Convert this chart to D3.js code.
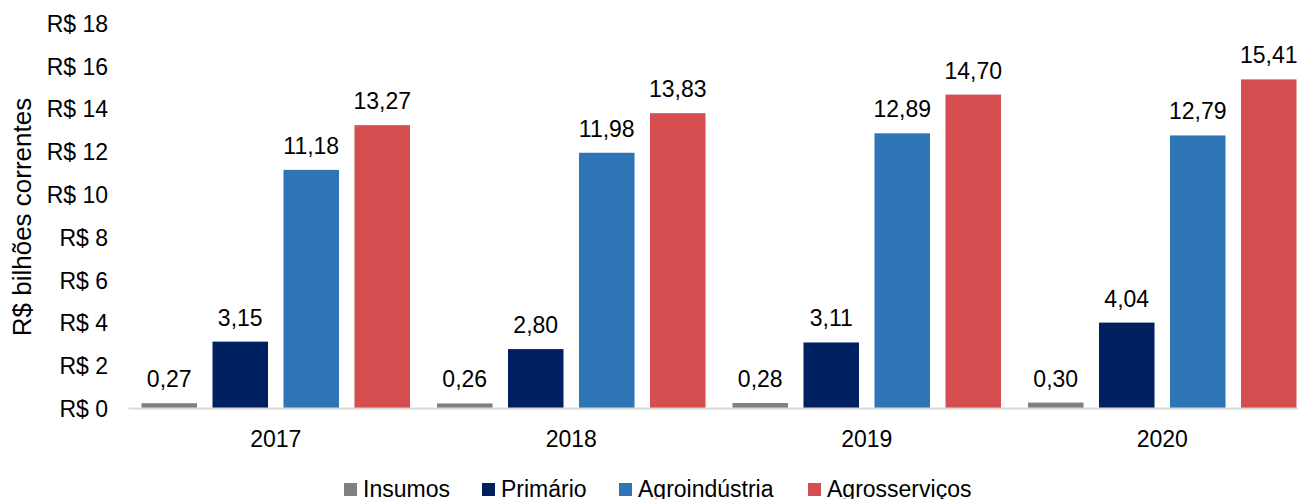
<!DOCTYPE html>
<html>
<head>
<meta charset="utf-8">
<script src="https://cdn.jsdelivr.net/npm/d3@7"></script>
<style>
  html, body { margin: 0; padding: 0; background: #fff; }
  svg { display: block; font-family: "Liberation Sans", Arial, sans-serif; }
</style>
</head>
<body>
<svg id="chart" width="1298" height="499"></svg>
<script>
// Valor por segmento do agronegócio (R$ bilhões correntes)
const years = ["2017", "2018", "2019", "2020"];
const segments = ["Insumos", "Primário", "Agroindústria", "Agrosserviços"];
const insumos = [0.27, 0.26, 0.28, 0.30];
const primario = [3.15, 2.80, 3.11, 4.04];
const agroindustria = [11.18, 11.98, 12.89, 12.79];
const agrosservicos = [13.27, 13.83, 14.70, 15.41];
const yTicks = [0, 2, 4, 6, 8, 10, 12, 14, 16, 18];
const colors = ["#808080", "#002060", "#2E75B6", "#D44D4F"];

const seriesValues = [insumos, primario, agroindustria, agrosservicos];
const rows = years.map((yr, i) => ({
  year: yr,
  values: segments.map((s, j) => ({ key: s, value: seriesValues[j][i], color: colors[j] }))
}));

const svg = d3.select("#chart");
const FS = 23;
const fmt = v => d3.format(".2f")(v).replace(".", ",");

const x0 = d3.scaleBand().domain(years).range([128, 1310]).paddingInner(0).paddingOuter(0);
const x1 = d3.scaleBand().domain(segments).range([0, x0.bandwidth()]).paddingInner(0.218).paddingOuter(0.19);
const y = d3.scaleLinear().domain([0, 18]).range([409, 24]);

// Y axis tick labels (no line)
const yAxis = d3.axisLeft(y).tickValues(yTicks).tickSize(0).tickPadding(0)
  .tickFormat(d => "R$ " + d);
const gy = svg.append("g").attr("transform", "translate(108,0)").call(yAxis);
gy.select(".domain").remove();
gy.selectAll("text").attr("font-size", FS).attr("fill", "#000")
  .attr("font-family", "Liberation Sans, Arial, sans-serif");

// Y title
svg.append("text")
  .attr("transform", "translate(31,217) rotate(-90)")
  .attr("text-anchor", "middle")
  .attr("font-size", 26)
  .attr("fill", "#000")
  .text("R$ bilhões correntes");

// Bars
const groups = svg.append("g").selectAll("g").data(rows).join("g")
  .attr("transform", d => `translate(${x0(d.year)},0)`);

groups.selectAll("rect").data(d => d.values).join("rect")
  .attr("x", d => x1(d.key))
  .attr("width", x1.bandwidth())
  .attr("y", d => y(d.value))
  .attr("height", d => y(0) - y(d.value))
  .attr("fill", d => d.color);

groups.selectAll("text.val").data(d => d.values).join("text")
  .attr("class", "val")
  .attr("x", d => x1(d.key) + x1.bandwidth() / 2)
  .attr("y", d => y(d.value) - 16)
  .attr("text-anchor", "middle")
  .attr("font-size", FS)
  .attr("fill", "#000")
  .text(d => fmt(d.value));

// X axis
const xAxis = d3.axisBottom(x0).tickSize(0).tickPadding(0);
const gx = svg.append("g").attr("transform", `translate(0,${y(0) - 1})`).call(xAxis);
gx.select(".domain").attr("stroke", "#d9d9d9").attr("stroke-width", 2);
gx.selectAll("text").attr("font-size", FS).attr("fill", "#000")
  .attr("dy", null).attr("y", 39)
  .attr("font-family", "Liberation Sans, Arial, sans-serif");

// Legend
const legendX = [344, 482, 619, 808];
const legend = svg.append("g").selectAll("g").data(segments).join("g")
  .attr("transform", (d, i) => `translate(${legendX[i]},0)`);
legend.append("rect").attr("x", 0).attr("y", 483).attr("width", 13).attr("height", 13)
  .attr("fill", (d, i) => colors[i]);
legend.append("text").attr("x", 19).attr("y", 497)
  .attr("font-size", FS).attr("fill", "#000").text(d => d);
</script>
</body>
</html>
